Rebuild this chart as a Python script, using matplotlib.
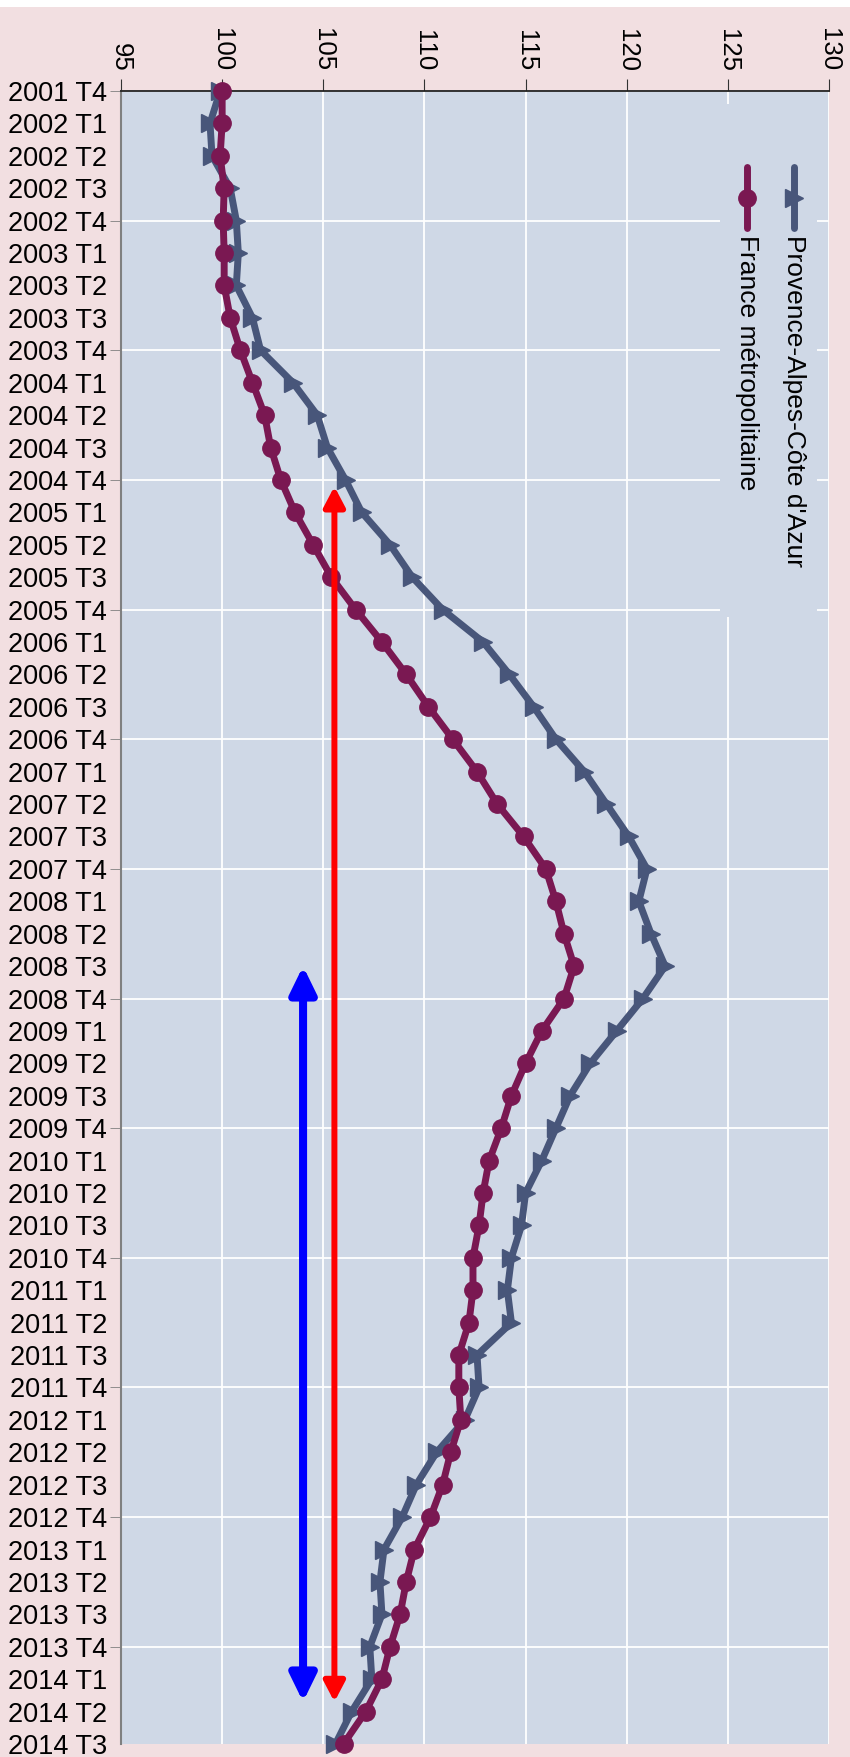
import matplotlib
matplotlib.use('Agg')
import matplotlib.pyplot as plt
from matplotlib.patches import Rectangle
from matplotlib.lines import Line2D

plt.rcParams['font.family'] = ['Liberation Sans', 'DejaVu Sans']

# quarters, 2001 T4 .. 2014 T3
quarters = ['2001 T4']
for yr in range(2002, 2015):
    for q in range(1, 5):
        quarters.append(f'{yr} T{q}')
quarters = quarters[:52]

paca = [99.9, 99.4, 99.5, 100.4, 100.7, 100.8, 100.7, 101.5, 101.9, 103.5,
        104.7, 105.2, 106.1, 106.9, 108.3, 109.4, 110.9, 112.9, 114.2, 115.4,
        116.5, 117.9, 119.0, 120.1, 121.0, 120.6, 121.2, 121.9, 120.8, 119.5,
        118.2, 117.2, 116.5, 115.8, 115.0, 114.8, 114.3, 114.1, 114.3, 112.6,
        112.7, 112.0, 110.6, 109.6, 108.9, 108.0, 107.8, 107.9, 107.3, 107.4,
        106.4, 105.6]
france = [100.0, 100.0, 99.9, 100.1, 100.05, 100.1, 100.1, 100.4, 100.9, 101.5,
          102.1, 102.4, 102.9, 103.6, 104.5, 105.4, 106.6, 107.9, 109.1, 110.2,
          111.4, 112.6, 113.6, 114.9, 116.0, 116.5, 116.9, 117.4, 116.9, 115.8,
          115.0, 114.3, 113.8, 113.2, 112.9, 112.7, 112.4, 112.4, 112.2, 111.7,
          111.7, 111.8, 111.3, 110.9, 110.3, 109.5, 109.1, 108.8, 108.3, 107.9,
          107.1, 106.0]
series_names = ["Provence-Alpes-Côte d'Azur", 'France métropolitaine']
xticks = [95, 100, 105, 110, 115, 120, 125, 130]

# arrows: (x value, start index, end index)
red_arrow = (105.55, 12.2, 49.7)
blue_arrow = (104.0, 27.0, 49.7)

c_paca = '#48567a'
c_fr = '#7a1852'
bg = '#f2dfe1'
axbg = '#cfd8e6'

fig = plt.figure(figsize=(8.5, 17.57), dpi=100, facecolor=bg)
fig.patches.append(Rectangle((0, 1 - 7 / 1757), 1, 7 / 1757, transform=fig.transFigure,
                             facecolor='white', edgecolor='none'))
ax = fig.add_axes([121 / 850, 1 - 1744 / 1757, 708 / 850, 1653 / 1757])
ax.set_facecolor(axbg)

idx = list(range(len(quarters)))
ax.plot(paca, idx, color=c_paca, lw=5, marker='>', ms=13, clip_on=False, zorder=3)
ax.plot(france, idx, color=c_fr, lw=5, marker='o', ms=12.5, clip_on=False, zorder=4)

for (xv, y0, y1), col, lw, hl, hw in [(red_arrow, 'red', 4.3, 12, 6.3),
                                     (blue_arrow, 'blue', 5.8, 16, 7.8)]:
    ax.annotate('', xy=(xv, y1), xytext=(xv, y0),
                arrowprops=dict(arrowstyle=f'<|-|>,head_length={hl},head_width={hw}',
                                color=col, lw=lw, shrinkA=0, shrinkB=0,
                                mutation_scale=1), zorder=6)

ax.set_xlim(95, 130)
ax.set_ylim(len(quarters) - 1, 0)
ax.set_xticks(xticks)
ax.set_yticks(idx)
ax.set_yticklabels(quarters, fontsize=19.5)
ax.yaxis.remove_overlapping_locs = False
ax.set_yticks(idx[::4], minor=True)
ax.xaxis.tick_top()
ax.set_xticklabels([str(t) for t in xticks], rotation=-90, fontsize=18.5)
ax.tick_params(axis='y', which='major', length=0, pad=10)
ax.tick_params(axis='y', which='minor', length=8, color='#808080')
ax.tick_params(axis='x', length=9, color='#333333', pad=5)
ax.grid(axis='x', color='white', lw=1.3)
ax.grid(axis='y', which='minor', color='white', lw=1.3)
ax.set_axisbelow(True)
for s in ['right', 'bottom']:
    ax.spines[s].set_visible(False)
ax.spines['left'].set_color('#808080')
ax.spines['left'].set_linewidth(1.5)
ax.spines['top'].set_color('#222222')
ax.spines['top'].set_linewidth(1.3)

# legend, drawn by hand so the text can be turned
ax.add_patch(Rectangle((0.846, 0.682), 0.137, 0.31, transform=ax.transAxes,
                       facecolor=axbg, edgecolor='none', zorder=2))
for xl, col, mk, ms, name in [(0.9506, c_paca, '>', 13, series_names[0]),
                              (0.884, c_fr, 'o', 12.5, series_names[1])]:
    ax.add_line(Line2D([xl, xl], [0.954, 0.917], transform=ax.transAxes, color=col,
                       lw=5, solid_capstyle='round', zorder=5))
    ax.add_line(Line2D([xl], [0.935], transform=ax.transAxes, color=col, marker=mk,
                       ms=ms, lw=0, zorder=5))
    ax.text(xl, 0.913, name, transform=ax.transAxes, rotation=-90, ha='center',
            va='top', fontsize=19, zorder=5)

fig.savefig('out.png', dpi=100, facecolor=bg)
